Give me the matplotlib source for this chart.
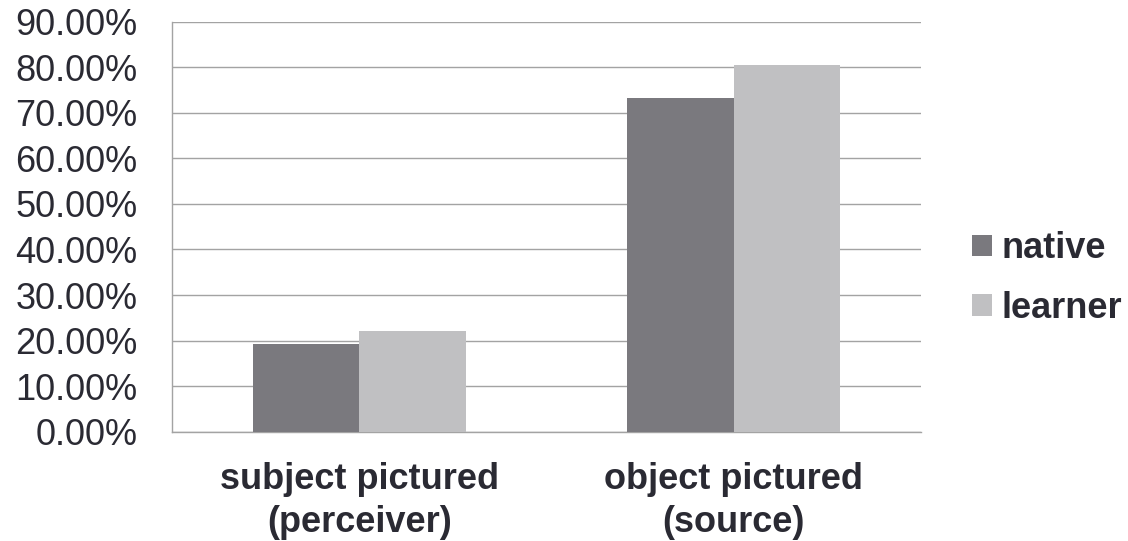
import matplotlib
matplotlib.use("Agg")
import matplotlib.pyplot as plt
import numpy as np
from matplotlib.patches import Patch
from matplotlib.ticker import FuncFormatter

plt.rcParams['font.family'] = ['Liberation Sans', 'DejaVu Sans']

categories = ["subject pictured\n(perceiver)", "object pictured\n(source)"]
series_names = ["native", "learner"]
native = [19.2, 73.2]
learner = [22.2, 80.4]
colors = ["#7a797e", "#c0c0c2"]
text_color = "#2a2a33"
grid_color = "#a3a3a3"

fig = plt.figure(figsize=(11.28, 5.41), dpi=100)
ax = fig.add_axes([0.1528, 0.202, 0.8162 - 0.1528, 0.9599 - 0.202])

x = np.arange(len(categories))
w = 0.285
ax.bar(x - w / 2, native, width=w, color=colors[0], zorder=3)
ax.bar(x + w / 2, learner, width=w, color=colors[1], zorder=3)

ax.set_xlim(-0.5, len(categories) - 0.5)
ax.set_ylim(0, 90)
ax.set_yticks(np.arange(0, 91, 10))
ax.yaxis.set_major_formatter(FuncFormatter(lambda v, p: f"{v:.2f}%"))
ax.yaxis.grid(True, color=grid_color, linewidth=1.0, zorder=0)
ax.set_axisbelow(True)

ax.set_xticks(x)
ax.set_xticklabels(categories, fontsize=26, fontweight="bold", color=text_color,
                   linespacing=1.3)
ax.tick_params(axis="x", length=0, pad=22)
ax.tick_params(axis="y", length=0, pad=25, labelsize=26, labelcolor=text_color)

for side in ["top", "right"]:
    ax.spines[side].set_visible(False)
for side in ["left", "bottom"]:
    ax.spines[side].set_color(grid_color)
    ax.spines[side].set_linewidth(1.0)

handles = [Patch(facecolor=c, edgecolor="none") for c in colors]
leg = fig.legend(handles, series_names, loc="center left",
                 bbox_to_anchor=(0.849, 0.485), frameon=False,
                 prop={"size": 26, "weight": "bold"},
                 handlelength=0.55, handleheight=0.55, handletextpad=0.25,
                 labelspacing=0.69, borderaxespad=0)
for t in leg.get_texts():
    t.set_color(text_color)

fig.savefig("out.png", dpi=100, facecolor="white")
